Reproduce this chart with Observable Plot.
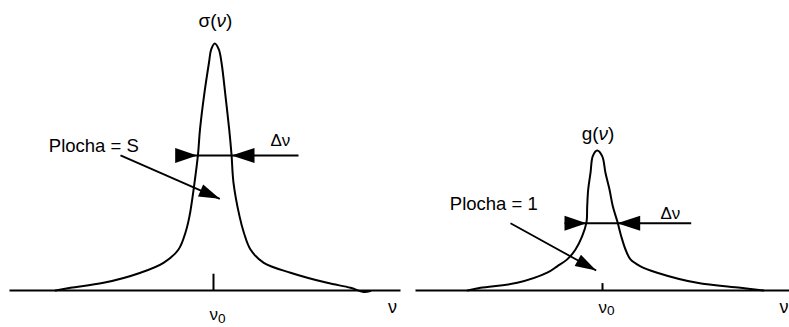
<!DOCTYPE html>
<html>
<head>
<meta charset="utf-8">
<script src="https://cdn.jsdelivr.net/npm/d3@7"></script>
<script src="https://cdn.jsdelivr.net/npm/@observablehq/plot@0.6"></script>
<style>
  html, body { margin: 0; padding: 0; background: #fff; }
  #chart { width: 789px; height: 327px; }
</style>
</head>
<body>
<div id="chart"></div>
<script>
// ---- data (frequency ν in arbitrary units, line-shape value normalised to left peak) ----
const leftNu    = [5.5, 7.0, 10.3, 14.0, 16.3, 17.8, 18.5, 18.9, 19.4, 19.75, 19.95, 20.35, 20.85, 21.07, 21.43, 21.83, 22.1, 22.5, 22.87, 23.1, 23.3, 23.9, 24.33, 25.0, 26.33, 29.0, 32.67, 35.0, 36.3, 37.0];
const leftSigma = [0.0, 0.011, 0.031, 0.072, 0.112, 0.166, 0.235, 0.301, 0.436, 0.551, 0.652, 0.787, 0.923, 0.976, 1.0, 0.976, 0.923, 0.787, 0.652, 0.551, 0.436, 0.301, 0.235, 0.166, 0.112, 0.072, 0.031, 0.011, -0.006, -0.002];
const rightNu   = [46.7, 48.0, 51.67, 54.67, 55.67, 56.67, 57.5, 58.17, 58.6, 58.67, 58.77, 59.0, 59.23, 59.67, 60.17, 60.5, 60.9, 61.23, 61.7, 62.07, 62.5, 63.0, 64.0, 65.67, 69.67, 74.0, 76.3];
const rightG    = [0.0, 0.011, 0.031, 0.072, 0.098, 0.126, 0.166, 0.220, 0.277, 0.341, 0.409, 0.476, 0.544, 0.567, 0.544, 0.476, 0.409, 0.341, 0.277, 0.220, 0.166, 0.126, 0.098, 0.072, 0.031, 0.011, 0.0];

const panelStart = [0.9, 41.5];      // baseline (ν axis) extents
const panelEnd   = [40.0, 79.5];
const nu0        = [21.3, 60.2];     // ν0 tick positions
const nu0TickTop = [0.068, 0.03];

const dvLevel    = [0.547, 0.272];   // Δν width marker height
const dvLeftTip  = [19.67, 58.6];
const dvRightTip = [23.1, 61.67];
const dvLineFrom = [17.6, 56.4];
const dvLineTo   = [29.8, 69.07];

const areaFromNu = [12.0, 51.0];     // "Plocha" pointer arrows
const areaFromV  = [0.547, 0.272];
const areaToNu   = [21.93, 59.57];
const areaToV    = [0.371, 0.081];

const titles     = ["σ(ν)", "g(ν)"];
const titleNu    = [21.5, 59.75];
const titleV     = [1.091, 0.636];
const areaLabels = ["Plocha = S", "Plocha = 1"];
const areaLabNu  = [4.83, 44.93];
const areaLabV   = [0.584, 0.351];
const dvLabNu    = [27.0, 66.0];
const dvLabV     = [0.609, 0.312];
const nu0LabNu   = [20.9, 59.8];
const nu0LabV    = [-0.097, -0.067];
const axisLabNu  = [38.75, 77.9];
const axisLabV   = [-0.069, -0.069];

// ---- scale geometry ----
const W = 789, H = 327, MB = 37;
const xDomain = [0, 78.9];
const yDomain = [0, (H - MB) / 247];
const Kx = W / (xDomain[1] - xDomain[0]);
const Ky = (H - MB) / (yDomain[1] - yDomain[0]);

function head(angleDeg, len = 21, hw = 7) {
  const a = angleDeg * Math.PI / 180, c = Math.cos(a), s = Math.sin(a);
  return {
    draw(ctx) {
      const bx = -len * c, by = -len * s;
      const px = -s * hw, py = c * hw;
      ctx.moveTo(0, 0);
      ctx.lineTo(bx + px, by + py);
      ctx.lineTo(bx - px, by - py);
      ctx.closePath();
    }
  };
}

const idx = [0, 1];
const leftCurve = leftNu.map((x, i) => ({x, y: leftSigma[i]}));
const rightCurve = rightNu.map((x, i) => ({x, y: rightG[i]}));

const marks = [];
// baselines
marks.push(Plot.link(idx, {x1: i => panelStart[i], x2: i => panelEnd[i], y1: 0, y2: 0, stroke: "black", strokeWidth: 2}));
// ν0 ticks
marks.push(Plot.link(idx, {x1: i => nu0[i], x2: i => nu0[i], y1: 0, y2: i => nu0TickTop[i], stroke: "black", strokeWidth: 2}));
// curves
marks.push(Plot.line(leftCurve, {x: "x", y: "y", curve: "catmull-rom", stroke: "black", strokeWidth: 2}));
marks.push(Plot.line(rightCurve, {x: "x", y: "y", curve: "catmull-rom", stroke: "black", strokeWidth: 2}));
// Δν markers
marks.push(Plot.link(idx, {x1: i => dvLineFrom[i], x2: i => dvLineTo[i], y1: i => dvLevel[i], y2: i => dvLevel[i], stroke: "black", strokeWidth: 2}));
marks.push(Plot.dot(idx, {x: i => dvLeftTip[i], y: i => dvLevel[i], symbol: head(0, 22, 7.5), fill: "black", stroke: "none", r: 6}));
marks.push(Plot.dot(idx, {x: i => dvRightTip[i], y: i => dvLevel[i], symbol: head(180, 23, 7.5), fill: "black", stroke: "none", r: 6}));
// area pointers
marks.push(Plot.link(idx, {x1: i => areaFromNu[i], y1: i => areaFromV[i], x2: i => areaToNu[i], y2: i => areaToV[i], stroke: "black", strokeWidth: 1.8}));
idx.forEach(i => {
  const ang = Math.atan2(-(areaToV[i] - areaFromV[i]) * Ky, (areaToNu[i] - areaFromNu[i]) * Kx) * 180 / Math.PI;
  marks.push(Plot.dot([i], {x: j => areaToNu[j], y: j => areaToV[j], symbol: head(ang, 21, 6.5), fill: "black", stroke: "none", r: 6}));
});
// texts
const font = "'Liberation Sans', Arial, sans-serif";
marks.push(Plot.text(idx, {x: i => titleNu[i], y: i => titleV[i], text: i => titles[i], fontSize: 19, fill: "black", textAnchor: "middle"}));
marks.push(Plot.text(idx, {x: i => areaLabNu[i], y: i => areaLabV[i], text: i => areaLabels[i], fontSize: 18.5, fill: "black", textAnchor: "start"}));
marks.push(Plot.text(idx, {x: i => dvLabNu[i], y: i => dvLabV[i], text: () => "Δν", fontSize: 17, fill: "black", textAnchor: "start"}));
marks.push(Plot.text(idx, {x: i => nu0LabNu[i], y: i => nu0LabV[i], text: () => "ν0", fontSize: 17, fill: "black", textAnchor: "start"}));
marks.push(Plot.text(idx, {x: i => axisLabNu[i], y: i => axisLabV[i], text: () => "ν", fontSize: 18, fill: "black", textAnchor: "start"}));

const svg = Plot.plot({
  width: W, height: H,
  marginLeft: 0, marginRight: 0, marginTop: 0, marginBottom: MB,
  x: {domain: xDomain, axis: null},
  y: {domain: yDomain, axis: null},
  style: {fontFamily: font, background: "white", color: "black"},
  marks
});

// typographic touches: italic ν in titles, subscript 0 in ν0
svg.querySelectorAll("text").forEach(t => {
  const s = t.textContent;
  if (s === "σ(ν)" || s === "g(ν)") {
    t.textContent = "";
    const a = s.split("ν");
    t.append(a[0]);
    const ts = document.createElementNS("http://www.w3.org/2000/svg", "tspan");
    ts.setAttribute("font-style", "italic");
    ts.textContent = "ν";
    t.append(ts);
    t.append(a[1]);
  } else if (s === "ν0") {
    t.textContent = "ν";
    const ts = document.createElementNS("http://www.w3.org/2000/svg", "tspan");
    ts.setAttribute("dy", "0.22em");
    ts.setAttribute("font-size", "0.8em");
    ts.textContent = "0";
    t.append(ts);
  }
});
document.getElementById("chart").append(svg);
</script>
</body>
</html>
